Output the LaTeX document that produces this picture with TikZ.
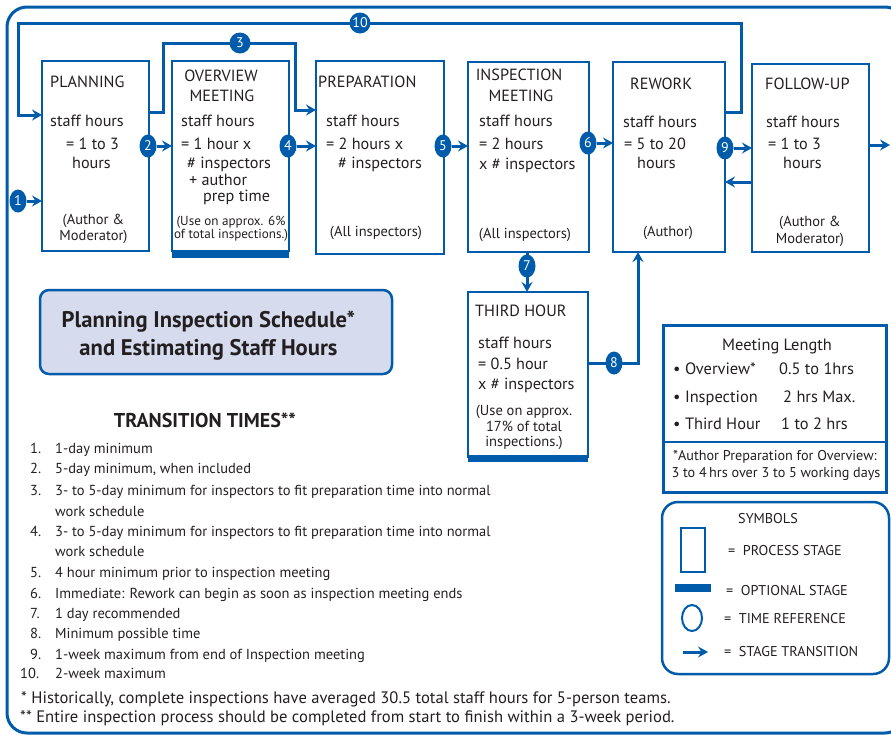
\documentclass[tikz,border=0pt]{standalone}
\usepackage{fontspec}
\setmainfont{PT Sans}
\usetikzlibrary{arrows.meta,calc,shapes.geometric}
\pgfdeclarelayer{bg}
\pgfsetlayers{bg,main}
\definecolor{ib}{RGB}{0,91,170}
\definecolor{tx}{RGB}{35,31,32}
\definecolor{tf}{RGB}{214,220,238}
\begin{document}
\begin{tikzpicture}[x=1pt,y=-1pt,
  stagebox/.style={draw=ib,line width=2pt,inner sep=0pt,outer sep=0pt},
  conn/.style={draw=ib,line width=3pt},
  arr/.style={conn,-{Stealth[length=10pt,width=11pt,inset=3.5pt]}},
  tnum/.style={ellipse,fill=ib,inner sep=0pt,outer sep=0pt,minimum width=17pt,minimum height=23pt,text=white,font=\fontsize{14}{14}\selectfont},
  tcirc/.style={circle,fill=ib,inner sep=0pt,outer sep=0pt,minimum size=21pt,text=white,font=\fontsize{14}{14}\selectfont},
  bt/.style={anchor=base west,inner sep=0pt,text=tx,font=\fontsize{16.2}{18}\selectfont},
  bc/.style={bt,anchor=base},
  st/.style={anchor=base,inner sep=0pt,text=tx,font=\fontsize{14.5}{16}\selectfont},
  sw/.style={anchor=base west,inner sep=0pt,text=tx,font=\fontsize{14.2}{16}\selectfont},
  lt/.style={anchor=base west,inner sep=0pt,text=tx,font=\fontsize{14.5}{17}\selectfont},
  ft/.style={lt,font=\fontsize{16.6}{18}\selectfont},
  mt/.style={lt,font=\fontsize{16.4}{18}\selectfont}
]
\useasboundingbox (0,0) rectangle (891,734);
% outer frame
\draw[ib,line width=3pt,rounded corners=20pt] (7,7) rectangle (905,733);

% stage boxes
\node[stagebox,minimum width=107pt,minimum height=190pt] (plan) at (95.5,156) {};
\node[stagebox,minimum width=117pt,minimum height=190pt] (over) at (230.5,156) {};
\fill[ib] (172,250) rectangle (289,257.5);
\node[stagebox,minimum width=128pt,minimum height=193pt] (prep) at (380,157.5) {};
\node[stagebox,minimum width=121pt,minimum height=190pt] (insp) at (528.5,157) {};
\node[stagebox,minimum width=112pt,minimum height=190pt] (rework) at (669,157) {};
\node[stagebox,minimum width=117pt,minimum height=188pt] (follow) at (810.5,158) {};
\node[stagebox,minimum width=120pt,minimum height=165pt] (third) at (528,374.5) {};
\fill[ib] (468,455) rectangle (588,462);

% time reference circles
\node[tnum] (n1) at (18,201) {1};
\node[tnum] (n2) at (148,146) {2};
\node[tcirc] (n3) at (240,43) {3};
\node[tnum] (n4) at (288,146) {4};
\node[tnum] (n5) at (443,146) {5};
\node[tnum] (n6) at (588,143) {6};
\node[tnum] (n7) at (527,266) {7};
\node[tnum] (n8) at (614,363) {8};
\node[tnum] (n9) at (725,148) {9};
\node[tcirc] (n10) at (360,23) {10};

% waypoints
\coordinate (w10a) at (741,112);
\coordinate (w10b) at (18,23);
\coordinate (w10c) at (18,115);
\coordinate (w3a) at (163,112);
\coordinate (w3b) at (163,43);
\coordinate (w3c) at (295,43);
\coordinate (w3d) at (295,110);
\coordinate (w8) at (638,363);
\coordinate (wb) at (740,182);
\coordinate (wout) at (890,145);

\begin{pgfonlayer}{bg}
\draw[arr] (rework.east |- w10a) -- (w10a) -- (w10a |- n10) -- (w10b) -- (w10c) -- (w10c -| plan.west);
\draw[arr] (plan.east |- w3a) -- (w3a) -- (w3b) -- (w3c) -- (w3d) -- (w3d -| prep.west);
\draw[arr] (n1) -- (n1 -| plan.west);
\draw[arr] (n2) -- (n2 -| over.west);
\draw[arr] (n4) -- (n4 -| prep.west);
\draw[arr] (n5) -- (n5 -| insp.west);
\draw[arr] (n6) -- (n6 -| rework.west);
\draw[arr] (n9) -- (n9 -| follow.west);
\draw[arr] (n7 |- insp.south) -- (n7 |- third.north);
\draw[arr] (third.east |- n8) -- (w8) -- (w8 |- rework.south);
\draw[arr] (follow.west |- wb) -- (rework.east |- wb);
\draw[arr] (follow.east |- wout) -- (wout);
\end{pgfonlayer}

% PLANNING text
\node[bt] (pa) at (50,87) {PLANNING};
\node[bt] (pb) at (50,126) {staff hours};
\node[bt] (pc) at (66,149) {= 1 to 3};
\node[bt] (pd) at (72,168) {hours};
\node[st] (pe) at (93.5,224) {(Author \&};
\node[st] (pf) at (93.5,240) {Moderator)};
% OVERVIEW text
\node[bc] (oa) at (221,81) {OVERVIEW};
\node[bc] (ob) at (222,101) {MEETING};
\node[bt] (oc) at (181,126) {staff hours};
\node[bt] (od) at (181,149) {= 1 hour x};
\node[bt] (oe) at (187,168) {\# inspectors};
\node[bt] (of) at (189,185) {+ author};
\node[bt] (og) at (203,201) {prep time};
\node[st,font=\fontsize{13.1}{14}\selectfont] (oh) at (231,225) {(Use on approx. 6\%};
\node[st,font=\fontsize{13.1}{14}\selectfont] (oi) at (231,238) {of total inspections.)};
% PREPARATION text
\node[bt] (ra) at (318,87) {PREPARATION};
\node[bt] (rb) at (326,126) {staff hours};
\node[bt] (rc) at (326,149) {= 2 hours x};
\node[bt] (rd) at (338,168) {\# inspectors};
\node[st] (re) at (376,236) {(All inspectors)};
% INSPECTION MEETING text
\node[bc] (ia) at (519,80) {INSPECTION};
\node[bc] (ib) at (521,101) {MEETING};
\node[bt] (ic) at (479,126) {staff hours};
\node[bt] (id) at (479,149) {= 2 hours};
\node[bt] (ie) at (479,169) {x \# inspectors};
\node[st] (if) at (525,238) {(All inspectors)};
% REWORK text
\node[bt] (wa) at (630,89) {REWORK};
\node[bt] (wb2) at (623,127) {staff hours};
\node[bt] (wc) at (624,149) {= 5 to 20};
\node[bt] (wd) at (637,168) {hours};
\node[st] (we) at (668,236) {(Author)};
% FOLLOW-UP text
\node[bt] (fa) at (765,89) {FOLLOW-UP};
\node[bt] (fb) at (766,127) {staff hours};
\node[bt] (fc) at (768,149) {= 1 to 3};
\node[bt] (fd) at (783,168) {hours};
\node[st] (fe) at (810,226) {(Author \&};
\node[st] (ff) at (810,243) {Moderator)};
% THIRD HOUR text
\node[bt] (ha) at (475,316) {THIRD HOUR};
\node[bt] (hb) at (478,348) {staff hours};
\node[bt] (hc) at (478,369) {= 0.5 hour};
\node[bt] (hd) at (478,389) {x \# inspectors};
\node[st] (he) at (524,415) {(Use on approx.};
\node[st] (hf) at (524,431) {17\% of total};
\node[st] (hg) at (524,446) {inspections.)};

% title box
\node[draw=ib,fill=tf,line width=2.5pt,rounded corners=9pt,minimum width=352pt,minimum height=84pt,inner sep=0pt] (title) at (216,332) {};
\node[anchor=base,inner sep=0pt,text=tx,font=\bfseries\fontsize{22.6}{24}\selectfont] (ta) at (208.5,327) {Planning Inspection Schedule*};
\node[anchor=base,inner sep=0pt,text=tx,font=\bfseries\fontsize{22.6}{24}\selectfont] (tb) at (208.5,355) {and Estimating Staff Hours};

% transition times
\node[anchor=base,inner sep=0pt,text=tx,font=\bfseries\fontsize{20}{22}\selectfont] (tt) at (205,427) {TRANSITION TIMES**};
\node[lt] (l1n) at (30,453) {1.};  \node[lt] (l1) at (55,453) {1-day minimum};
\node[lt] (l2n) at (30,473) {2.};  \node[lt] (l2) at (55,473) {5-day minimum, when included};
\node[lt] (l3n) at (30,495) {3.};  \node[lt] (l3) at (55,495) {3- to 5-day minimum for inspectors to fit preparation time into normal};
\node[lt] (l3b) at (55,516) {work schedule};
\node[lt] (l4n) at (30,536) {4.};  \node[lt] (l4) at (55,536) {3- to 5-day minimum for inspectors to fit preparation time into normal};
\node[lt] (l4b) at (55,556) {work schedule};
\node[lt] (l5n) at (30,577) {5.};  \node[lt] (l5) at (55,577) {4 hour minimum prior to inspection meeting};
\node[lt] (l6n) at (30,598) {6.};  \node[lt] (l6) at (55,598) {Immediate: Rework can begin as soon as inspection meeting ends};
\node[lt] (l7n) at (30,618) {7.};  \node[lt] (l7) at (55,618) {1 day recommended};
\node[lt] (l8n) at (30,638) {8.};  \node[lt] (l8) at (55,638) {Minimum possible time};
\node[lt] (l9n) at (30,659) {9.};  \node[lt] (l9) at (55,659) {1-week maximum from end of Inspection meeting};
\node[lt] (l10n) at (20,678) {10.}; \node[lt] (l10) at (55,678) {2-week maximum};
\node[ft] (f1) at (21,703) {* Historically, complete inspections have averaged 30.5 total staff hours for 5-person teams.};
\node[ft] (f2) at (20,722) {** Entire inspection process should be completed from start to finish within a 3-week period.};

% meeting length box
\node[draw=ib,line width=3pt,minimum width=223pt,minimum height=167pt,inner sep=0pt] (meet) at (774.5,408.5) {};
\draw[ib,line width=2pt] (663,442) -- (886,442);
\node[mt,anchor=base] (ma) at (777,350) {Meeting Length};
\node[mt] (mb) at (673,374) {\textbullet\ Overview*};
\node[mt] (mc) at (779,374) {0.5 to 1hrs};
\node[mt] (md) at (673,402) {\textbullet\ Inspection};
\node[mt] (me) at (783,402) {2 hrs Max.};
\node[mt] (mf) at (673,429) {\textbullet\ Third Hour};
\node[mt] (mg) at (781,429) {1 to 2 hrs};
\node[st,font=\fontsize{14.2}{16}\selectfont] (mh) at (775,460) {*Author Preparation for Overview:};
\node[st,font=\fontsize{14.2}{16}\selectfont] (mi) at (776,477) {3 to 4\,hrs over 3 to 5 working days};

% symbols box
\node[draw=ib,line width=2.5pt,rounded corners=16pt,minimum width=227pt,minimum height=172pt,inner sep=0pt] (sym) at (775.5,588) {};
\node[sw] (sa) at (738,523) {SYMBOLS};
\node[stagebox,minimum width=24pt,minimum height=44pt] (s1) at (693,550) {};
\node[sw] (sb) at (728,555) {= \ PROCESS STAGE};
\fill[ib] (675,584) rectangle (711,592);
\node[sw] (sc) at (726,595) {= \ OPTIONAL STAGE};
\node[ellipse,draw=ib,line width=2pt,minimum width=20pt,minimum height=26pt,inner sep=0pt] (s3) at (692,618) {};
\node[sw] (sd) at (724,623) {= \ TIME REFERENCE};
\coordinate (sa1) at (683,652);
\coordinate (sa2) at (708,652);
\draw[arr] (sa1) -- (sa2);
\node[sw] (se) at (724,656) {= \ STAGE TRANSITION};
\end{tikzpicture}
\end{document}
